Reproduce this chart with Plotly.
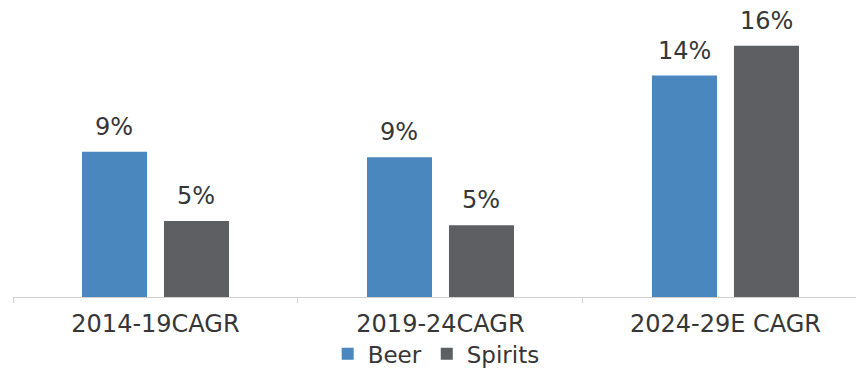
import plotly.graph_objects as go

categories = ["2014-19CAGR", "2019-24CAGR", "2024-29E CAGR"]
beer = [9.25, 8.9, 14.1]
spirits = [4.84, 4.57, 16.0]
series_names = ["Beer", "Spirits"]
colors = ["#4A87BE", "#5E5F63"]

FONT = "DejaVu Sans"
TXT = "#363636"

fig = go.Figure()
for name, vals, col in zip(series_names, [beer, spirits], colors):
    fig.add_trace(go.Bar(
        name=name, x=categories, y=vals, marker=dict(color=col, line=dict(width=0)),
        hoverinfo="skip",
    ))

# value labels above bars
shift = {0: -41, 1: 41}
for si, vals in enumerate([beer, spirits]):
    for ci, v in enumerate(vals):
        fig.add_annotation(
            x=ci, y=v, xref="x", yref="y", text=f"{round(v):d}%",
            showarrow=False, xshift=shift[si], yanchor="bottom", yshift=9,
            font=dict(family=FONT, size=24, color=TXT),
        )

fig.update_layout(
    width=856, height=375,
    margin=dict(l=13, r=0, t=20, b=78, autoexpand=False),
    paper_bgcolor="white", plot_bgcolor="white",
    barmode="group", bargap=0.4246, bargroupgap=0.207,
    font=dict(family=FONT, size=24, color=TXT),
    showlegend=True,
    legend=dict(orientation="h", x=0.502, xanchor="center", y=-0.205, yanchor="middle",
                font=dict(family=FONT, size=23, color=TXT), itemwidth=30,
                traceorder="normal"),
    xaxis=dict(
        range=[-0.5, 2.458], showline=True, linecolor="#D0D0D0", linewidth=1,
        ticks="outside", tickson="boundaries", ticklen=5, tickcolor="#D0D0D0",
        ticklabelstandoff=5,
        showgrid=False, zeroline=False, tickfont=dict(family=FONT, size=24, color=TXT),
        fixedrange=True,
    ),
    yaxis=dict(range=[0, 17.64], visible=False, showgrid=False, zeroline=False, fixedrange=True),
)

fig.write_html(
    "out.html",
    config={"displayModeBar": False, "staticPlot": True},
    post_script="document.body.style.margin='0';document.body.style.overflow='hidden';",
)
